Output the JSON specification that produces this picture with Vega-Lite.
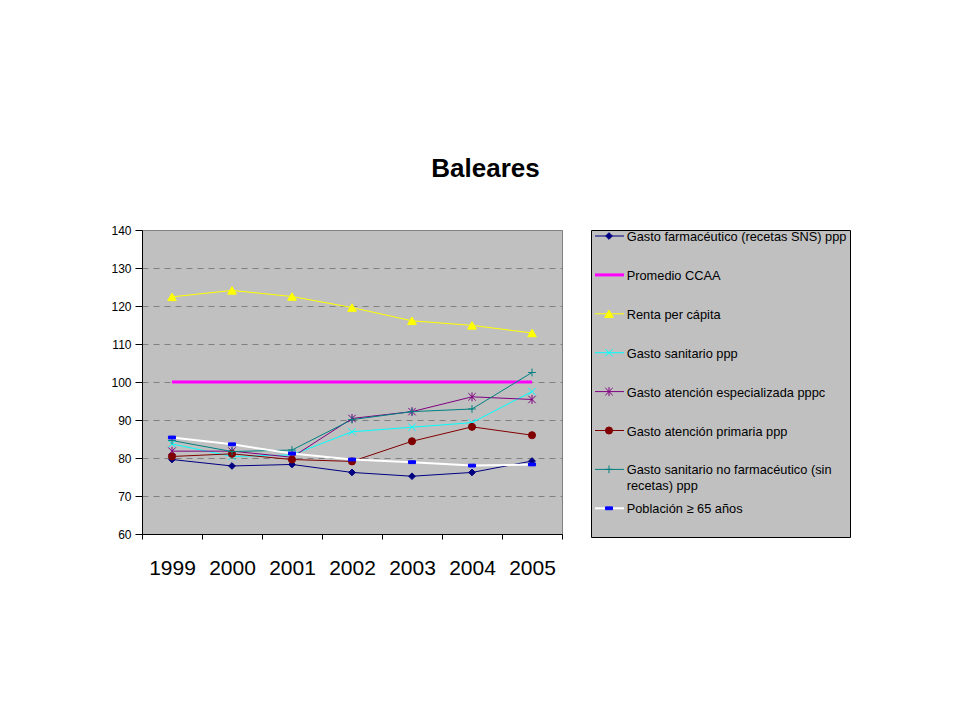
{
  "$schema": "https://vega.github.io/schema/vega-lite/v6.json",
  "background": "white",
  "padding": {"left": 110, "top": 155, "right": 5, "bottom": 5},
  "config": {"font": "Liberation Sans", "concat": {"spacing": 27}},
  "title": {"text": "Baleares", "fontSize": 26, "fontWeight": "bold", "color": "black", "anchor": "middle", "offset": 42, "dx": 5},
  "datasets": {
    "main": [
      {"series": "Gasto farmacéutico (recetas SNS) ppp", "year": "1999", "value": 79.6},
      {"series": "Gasto farmacéutico (recetas SNS) ppp", "year": "2000", "value": 77.9},
      {"series": "Gasto farmacéutico (recetas SNS) ppp", "year": "2001", "value": 78.3},
      {"series": "Gasto farmacéutico (recetas SNS) ppp", "year": "2002", "value": 76.2},
      {"series": "Gasto farmacéutico (recetas SNS) ppp", "year": "2003", "value": 75.2},
      {"series": "Gasto farmacéutico (recetas SNS) ppp", "year": "2004", "value": 76.2},
      {"series": "Gasto farmacéutico (recetas SNS) ppp", "year": "2005", "value": 79.2},
      {"series": "Promedio CCAA", "year": "1999", "value": 100},
      {"series": "Promedio CCAA", "year": "2000", "value": 100},
      {"series": "Promedio CCAA", "year": "2001", "value": 100},
      {"series": "Promedio CCAA", "year": "2002", "value": 100},
      {"series": "Promedio CCAA", "year": "2003", "value": 100},
      {"series": "Promedio CCAA", "year": "2004", "value": 100},
      {"series": "Promedio CCAA", "year": "2005", "value": 100},
      {"series": "Renta per cápita", "year": "1999", "value": 122.4},
      {"series": "Renta per cápita", "year": "2000", "value": 124.1},
      {"series": "Renta per cápita", "year": "2001", "value": 122.5},
      {"series": "Renta per cápita", "year": "2002", "value": 119.6},
      {"series": "Renta per cápita", "year": "2003", "value": 116.1},
      {"series": "Renta per cápita", "year": "2004", "value": 114.9},
      {"series": "Renta per cápita", "year": "2005", "value": 112.9},
      {"series": "Gasto sanitario ppp", "year": "1999", "value": 83.7},
      {"series": "Gasto sanitario ppp", "year": "2000", "value": 80.4},
      {"series": "Gasto sanitario ppp", "year": "2001", "value": 80.8},
      {"series": "Gasto sanitario ppp", "year": "2002", "value": 86.9},
      {"series": "Gasto sanitario ppp", "year": "2003", "value": 88.1},
      {"series": "Gasto sanitario ppp", "year": "2004", "value": 89.3},
      {"series": "Gasto sanitario ppp", "year": "2005", "value": 97.5},
      {"series": "Gasto atención especializada pppc", "year": "1999", "value": 81.8},
      {"series": "Gasto atención especializada pppc", "year": "2000", "value": 81.8},
      {"series": "Gasto atención especializada pppc", "year": "2001", "value": 80.2},
      {"series": "Gasto atención especializada pppc", "year": "2002", "value": 90.4},
      {"series": "Gasto atención especializada pppc", "year": "2003", "value": 92.2},
      {"series": "Gasto atención especializada pppc", "year": "2004", "value": 96.1},
      {"series": "Gasto atención especializada pppc", "year": "2005", "value": 95.4},
      {"series": "Gasto atención primaria ppp", "year": "1999", "value": 80.4},
      {"series": "Gasto atención primaria ppp", "year": "2000", "value": 81.1},
      {"series": "Gasto atención primaria ppp", "year": "2001", "value": 79.6},
      {"series": "Gasto atención primaria ppp", "year": "2002", "value": 79.1},
      {"series": "Gasto atención primaria ppp", "year": "2003", "value": 84.4},
      {"series": "Gasto atención primaria ppp", "year": "2004", "value": 88.2},
      {"series": "Gasto atención primaria ppp", "year": "2005", "value": 86.0},
      {"series": "Gasto sanitario no farmacéutico (sin recetas) ppp", "year": "1999", "value": 84.6},
      {"series": "Gasto sanitario no farmacéutico (sin recetas) ppp", "year": "2000", "value": 81.7},
      {"series": "Gasto sanitario no farmacéutico (sin recetas) ppp", "year": "2001", "value": 82.1},
      {"series": "Gasto sanitario no farmacéutico (sin recetas) ppp", "year": "2002", "value": 90.1},
      {"series": "Gasto sanitario no farmacéutico (sin recetas) ppp", "year": "2003", "value": 92.2},
      {"series": "Gasto sanitario no farmacéutico (sin recetas) ppp", "year": "2004", "value": 92.9},
      {"series": "Gasto sanitario no farmacéutico (sin recetas) ppp", "year": "2005", "value": 102.5},
      {"series": "Población ≥ 65 años", "year": "1999", "value": 85.4},
      {"series": "Población ≥ 65 años", "year": "2000", "value": 83.6},
      {"series": "Población ≥ 65 años", "year": "2001", "value": 81.2},
      {"series": "Población ≥ 65 años", "year": "2002", "value": 79.6},
      {"series": "Población ≥ 65 años", "year": "2003", "value": 78.9},
      {"series": "Población ≥ 65 años", "year": "2004", "value": 78.0},
      {"series": "Población ≥ 65 años", "year": "2005", "value": 78.3}
    ],
    "legend": [
      {"series": "Gasto farmacéutico (recetas SNS) ppp", "label": "Gasto farmacéutico (recetas SNS) ppp"},
      {"series": "Promedio CCAA", "label": "Promedio CCAA"},
      {"series": "Renta per cápita", "label": "Renta per cápita"},
      {"series": "Gasto sanitario ppp", "label": "Gasto sanitario ppp"},
      {"series": "Gasto atención especializada pppc", "label": "Gasto atención especializada pppc"},
      {"series": "Gasto atención primaria ppp", "label": "Gasto atención primaria ppp"},
      {"series": "Gasto sanitario no farmacéutico (sin recetas) ppp", "label": "Gasto sanitario no farmacéutico (sin\nrecetas) ppp"},
      {"series": "Población ≥ 65 años", "label": "Población ≥ 65 años"}
    ]
  },
  "resolve": {"scale": {"x": "independent", "y": "independent"}},
  "hconcat": [
    {
      "width": 420,
      "height": 304,
      "data": {"name": "main"},
      "view": {"fill": "#c0c0c0", "stroke": "#808080", "strokeWidth": 1},
      "encoding": {
        "x": {"field": "year", "type": "ordinal", "scale": {"paddingInner": 0, "paddingOuter": 0},
              "axis": {"title": null, "labelAngle": 0, "labelFontSize": 21, "labelColor": "black", "labelPadding": 18, "tickBand": "extent", "tickSize": 5, "tickColor": "black", "domainColor": "black", "grid": false}},
        "y": {"field": "value", "type": "quantitative", "scale": {"domain": [60, 140], "nice": false, "zero": false},
              "axis": {"title": null, "values": [60, 70, 80, 90, 100, 110, 120, 130, 140], "labelFontSize": 12, "labelColor": "black", "labelPadding": 4, "tickSize": 7, "tickColor": "black", "domainColor": "black", "grid": true, "gridColor": "#808080", "gridDash": [6, 5], "gridWidth": 1}}
      },
      "layer": [
        {
          "mark": {"type": "line", "strokeCap": "butt"},
          "encoding": {
            "color": {"field": "series", "type": "nominal", "legend": null,
              "scale": {"domain": ["Gasto farmacéutico (recetas SNS) ppp", "Promedio CCAA", "Renta per cápita", "Gasto sanitario ppp", "Gasto atención especializada pppc", "Gasto atención primaria ppp", "Gasto sanitario no farmacéutico (sin recetas) ppp", "Población ≥ 65 años"],
                        "range": ["#000080", "#ff00ff", "#ffff00", "#00ffff", "#800080", "#800000", "#008080", "#ffffff"]}},
            "strokeWidth": {"field": "series", "type": "nominal", "legend": null,
              "scale": {"type": "ordinal", "domain": ["Gasto farmacéutico (recetas SNS) ppp", "Promedio CCAA", "Renta per cápita", "Gasto sanitario ppp", "Gasto atención especializada pppc", "Gasto atención primaria ppp", "Gasto sanitario no farmacéutico (sin recetas) ppp", "Población ≥ 65 años"],
                        "range": [1, 3, 1, 1, 1, 1, 1, 2]}}
          }
        },
        {
          "transform": [{"filter": "datum.series !== 'Promedio CCAA'"}],
          "mark": {"type": "point", "filled": true, "opacity": 1, "strokeWidth": 1},
          "encoding": {
            "fill": {"field": "series", "type": "nominal", "legend": null,
              "scale": {"domain": ["Gasto farmacéutico (recetas SNS) ppp", "Promedio CCAA", "Renta per cápita", "Gasto sanitario ppp", "Gasto atención especializada pppc", "Gasto atención primaria ppp", "Gasto sanitario no farmacéutico (sin recetas) ppp", "Población ≥ 65 años"],
                        "range": ["#000080", "#ff00ff", "#ffff00", "#00ffff", "#800080", "#800000", "#008080", "#0000ff"]}},
            "stroke": {"field": "series", "type": "nominal", "legend": null,
              "scale": {"domain": ["Gasto farmacéutico (recetas SNS) ppp", "Promedio CCAA", "Renta per cápita", "Gasto sanitario ppp", "Gasto atención especializada pppc", "Gasto atención primaria ppp", "Gasto sanitario no farmacéutico (sin recetas) ppp", "Población ≥ 65 años"],
                        "range": ["#000080", "#ff00ff", "#ffff00", "#00ffff", "#800080", "#800000", "#008080", "#0000ff"]}},
            "shape": {"field": "series", "type": "nominal", "legend": null,
              "scale": {"domain": ["Gasto farmacéutico (recetas SNS) ppp", "Promedio CCAA", "Renta per cápita", "Gasto sanitario ppp", "Gasto atención especializada pppc", "Gasto atención primaria ppp", "Gasto sanitario no farmacéutico (sin recetas) ppp", "Población ≥ 65 años"],
                        "range": ["diamond", "circle", "triangle-up", "M-1,-1L1,1M-1,1L1,-1", "M-1,-1L1,1M-1,1L1,-1M0,-1.2V1.2", "circle", "M-1,0H1M0,-1V1", "M-1,-0.4H1V0.4H-1Z"]}},
            "size": {"field": "series", "type": "nominal", "legend": null,
              "scale": {"type": "ordinal", "domain": ["Gasto farmacéutico (recetas SNS) ppp", "Promedio CCAA", "Renta per cápita", "Gasto sanitario ppp", "Gasto atención especializada pppc", "Gasto atención primaria ppp", "Gasto sanitario no farmacéutico (sin recetas) ppp", "Población ≥ 65 años"],
                        "range": [45, 45, 75, 55, 55, 50, 60, 50]}}
          }
        }
      ]
    },
    {
      "width": 259,
      "height": 307,
      "data": {"name": "legend"},
      "view": {"fill": "#c0c0c0", "stroke": "black", "strokeWidth": 1},
      "encoding": {
        "y": {"field": "series", "type": "nominal", "axis": null,
          "scale": {"type": "point", "padding": 0.446, "align": 0.173,
                    "domain": ["Gasto farmacéutico (recetas SNS) ppp", "Promedio CCAA", "Renta per cápita", "Gasto sanitario ppp", "Gasto atención especializada pppc", "Gasto atención primaria ppp", "Gasto sanitario no farmacéutico (sin recetas) ppp", "Población ≥ 65 años"]}}
      },
      "layer": [
        {
          "mark": {"type": "rule", "strokeCap": "butt"},
          "encoding": {
            "x": {"datum": 0.4, "type": "quantitative", "axis": null, "scale": {"domain": [0, 25.9], "nice": false, "zero": false}},
            "x2": {"datum": 3.3},
            "color": {"field": "series", "type": "nominal", "legend": null,
              "scale": {"domain": ["Gasto farmacéutico (recetas SNS) ppp", "Promedio CCAA", "Renta per cápita", "Gasto sanitario ppp", "Gasto atención especializada pppc", "Gasto atención primaria ppp", "Gasto sanitario no farmacéutico (sin recetas) ppp", "Población ≥ 65 años"],
                        "range": ["#000080", "#ff00ff", "#ffff00", "#00ffff", "#800080", "#800000", "#008080", "#ffffff"]}},
            "strokeWidth": {"field": "series", "type": "nominal", "legend": null,
              "scale": {"type": "ordinal", "domain": ["Gasto farmacéutico (recetas SNS) ppp", "Promedio CCAA", "Renta per cápita", "Gasto sanitario ppp", "Gasto atención especializada pppc", "Gasto atención primaria ppp", "Gasto sanitario no farmacéutico (sin recetas) ppp", "Población ≥ 65 años"],
                        "range": [1, 3, 1, 1, 1, 1, 1, 2]}}
          }
        },
        {
          "transform": [{"filter": "datum.series !== 'Promedio CCAA'"}],
          "mark": {"type": "point", "filled": true, "opacity": 1, "strokeWidth": 1},
          "encoding": {
            "x": {"datum": 1.8, "type": "quantitative"},
            "fill": {"field": "series", "type": "nominal", "legend": null,
              "scale": {"domain": ["Gasto farmacéutico (recetas SNS) ppp", "Promedio CCAA", "Renta per cápita", "Gasto sanitario ppp", "Gasto atención especializada pppc", "Gasto atención primaria ppp", "Gasto sanitario no farmacéutico (sin recetas) ppp", "Población ≥ 65 años"],
                        "range": ["#000080", "#ff00ff", "#ffff00", "#00ffff", "#800080", "#800000", "#008080", "#0000ff"]}},
            "stroke": {"field": "series", "type": "nominal", "legend": null,
              "scale": {"domain": ["Gasto farmacéutico (recetas SNS) ppp", "Promedio CCAA", "Renta per cápita", "Gasto sanitario ppp", "Gasto atención especializada pppc", "Gasto atención primaria ppp", "Gasto sanitario no farmacéutico (sin recetas) ppp", "Población ≥ 65 años"],
                        "range": ["#000080", "#ff00ff", "#ffff00", "#00ffff", "#800080", "#800000", "#008080", "#0000ff"]}},
            "shape": {"field": "series", "type": "nominal", "legend": null,
              "scale": {"domain": ["Gasto farmacéutico (recetas SNS) ppp", "Promedio CCAA", "Renta per cápita", "Gasto sanitario ppp", "Gasto atención especializada pppc", "Gasto atención primaria ppp", "Gasto sanitario no farmacéutico (sin recetas) ppp", "Población ≥ 65 años"],
                        "range": ["diamond", "circle", "triangle-up", "M-1,-1L1,1M-1,1L1,-1", "M-1,-1L1,1M-1,1L1,-1M0,-1.2V1.2", "circle", "M-1,0H1M0,-1V1", "M-1,-0.4H1V0.4H-1Z"]}},
            "size": {"field": "series", "type": "nominal", "legend": null,
              "scale": {"type": "ordinal", "domain": ["Gasto farmacéutico (recetas SNS) ppp", "Promedio CCAA", "Renta per cápita", "Gasto sanitario ppp", "Gasto atención especializada pppc", "Gasto atención primaria ppp", "Gasto sanitario no farmacéutico (sin recetas) ppp", "Población ≥ 65 años"],
                        "range": [40, 40, 60, 45, 45, 40, 45, 40]}}
          }
        },
        {
          "mark": {"type": "text", "align": "left", "baseline": "top", "dy": -5, "fontSize": 12.8, "lineBreak": "\n", "lineHeight": 16, "color": "black"},
          "encoding": {
            "x": {"datum": 3.57, "type": "quantitative"},
            "text": {"field": "label", "type": "nominal"}
          }
        }
      ]
    }
  ]
}
